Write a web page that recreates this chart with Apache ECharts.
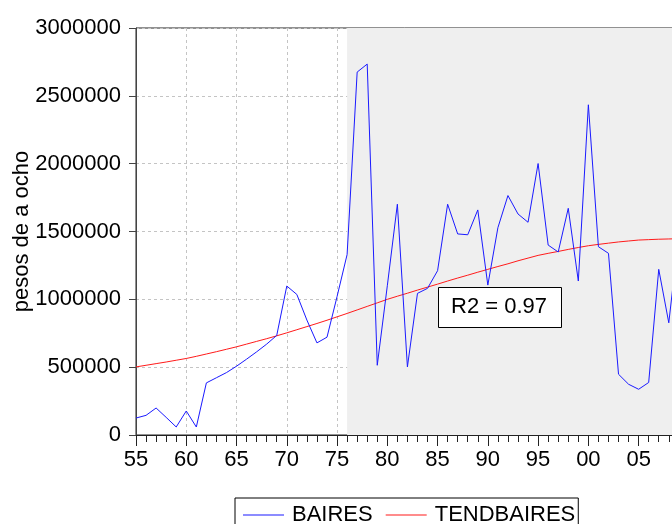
<!DOCTYPE html>
<html>
<head>
<meta charset="utf-8">
<script src="https://cdn.jsdelivr.net/npm/echarts@6/dist/echarts.min.js"></script>
<style>
  html, body { margin: 0; padding: 0; background: #fff; }
  #chart { width: 672px; height: 524px; }
</style>
</head>
<body>
<div id="chart"></div>
<script>
// years 1955..2009
var years = []
for (var y = 1955; y <= 2009; y++) years.push(y)

// BAIRES (pesos de a ocho)
var baires = [
  125000, 145000, 199000, 130000, 59000, 177000, 59000, 384000, 422000, 460000,
  507000, 559000, 613000, 670000, 734000, 1098000, 1036000, 847000, 679000, 721000,
  1020000, 1330000, 2675000, 2734000, 514000, 1100000, 1701000, 502000, 1044000, 1081000,
  1211000, 1701000, 1482000, 1476000, 1659000, 1105000, 1528000, 1765000, 1629000, 1568000,
  2001000, 1400000, 1349000, 1671000, 1135000, 2434000, 1388000, 1339000, 448000, 374000,
  337000, 387000, 1221000, 827000, 1480000
]

// TENDBAIRES (trend)
var tendbaires = [
  502000, 514000, 526000, 538000, 551000, 564000, 580000, 597000, 614000, 632000,
  650000, 670000, 690000, 710000, 731000, 753000, 776000, 799000, 822000, 846000,
  871000, 896000, 922000, 948000, 974000, 1000000, 1023000, 1045000, 1068000, 1090000,
  1112000, 1135000, 1157000, 1178000, 1200000, 1221000, 1242000, 1262000, 1284000, 1304000,
  1324000, 1339000, 1353000, 1368000, 1382000, 1395000, 1405000, 1414000, 1423000, 1430000,
  1437000, 1440000, 1443000, 1445000, 1447000
]

var shadeFrom = 1976
var shadeTo = 2012
var r2Text = 'R2 = 0.97'

var font = 'Liberation Sans, Arial, sans-serif'
var chart = echarts.init(document.getElementById('chart'))

function pairs(vals) {
  return years.map(function(y, i) { return [y, vals[i]] })
}

var option = {
  animation: false,
  backgroundColor: '#fff',
  grid: {
    left: 136,
    top: 28,
    width: 573,
    height: 407,
    outerBoundsMode: 'none',
    containLabel: false,
    show: true,
    borderColor: '#222',
    borderWidth: 1,
    backgroundColor: 'transparent'
  },
  legend: {
    left: 235,
    top: 498,
    icon: 'rect',
    itemWidth: 41,
    itemHeight: 1,
    itemGap: 13,
    padding: [6, 3, 6, 8],
    borderColor: '#000',
    borderWidth: 1,
    textStyle: { fontFamily: font, fontSize: 22, color: '#000', padding: [0, 0, 0, 3] },
    data: ['BAIRES', 'TENDBAIRES']
  },
  xAxis: {
    type: 'value',
    min: 1955,
    max: 2012,
    interval: 5,
    axisLine: { lineStyle: { color: '#222', width: 1 } },
    axisTick: { show: true, length: 11, lineStyle: { color: '#222' } },
    minorTick: { show: true, splitNumber: 5, length: 7, lineStyle: { color: '#222' } },
    axisLabel: {
      margin: 14,
      fontFamily: font,
      fontSize: 22,
      color: '#000',
      formatter: function(v) {
        var s = String(v % 100)
        return s.length < 2 ? '0' + s : s
      }
    },
    splitLine: { show: true, lineStyle: { color: '#c4c4c4', type: [3, 3] } }
  },
  yAxis: {
    type: 'value',
    min: 0,
    max: 3000000,
    interval: 500000,
    name: 'pesos de a ocho',
    nameLocation: 'middle',
    nameRotate: 90,
    nameGap: 103,
    nameMoveOverlap: false,
    nameTextStyle: { fontFamily: font, fontSize: 22, color: '#000' },
    axisLine: { show: true, lineStyle: { color: '#444', width: 1 } },
    axisTick: { show: true, length: 7, lineStyle: { color: '#444' } },
    axisLabel: {
      margin: 15,
      fontFamily: font,
      fontSize: 22,
      color: '#000',
      formatter: function(v) { return String(v) }
    },
    splitLine: { show: true, lineStyle: { color: '#c4c4c4', type: [3, 3] } }
  },
  series: [
    {
      name: 'BAIRES',
      type: 'line',
      data: pairs(baires),
      symbol: 'none',
      lineStyle: { color: '#1a1aff', width: 1 },
      itemStyle: { color: '#1a1aff' },
      z: 3,
      markArea: {
        silent: true,
        itemStyle: { color: '#efefef' },
        data: [[{ xAxis: shadeFrom }, { xAxis: shadeTo }]]
      }
    },
    {
      name: 'TENDBAIRES',
      type: 'line',
      data: pairs(tendbaires),
      symbol: 'none',
      smooth: false,
      lineStyle: { color: '#ff1a1a', width: 1 },
      itemStyle: { color: '#ff1a1a' },
      z: 2
    }
  ],
  graphic: [
    {
      type: 'rect',
      left: 438,
      top: 287,
      shape: { width: 123, height: 40 },
      style: { fill: '#fff', stroke: '#000', lineWidth: 1 },
      z: 10
    },
    {
      type: 'text',
      left: 451,
      top: 296,
      style: { text: r2Text, fontFamily: font, fontSize: 22, fill: '#000' },
      z: 11
    }
  ]
}

chart.setOption(option)
</script>
</body>
</html>
